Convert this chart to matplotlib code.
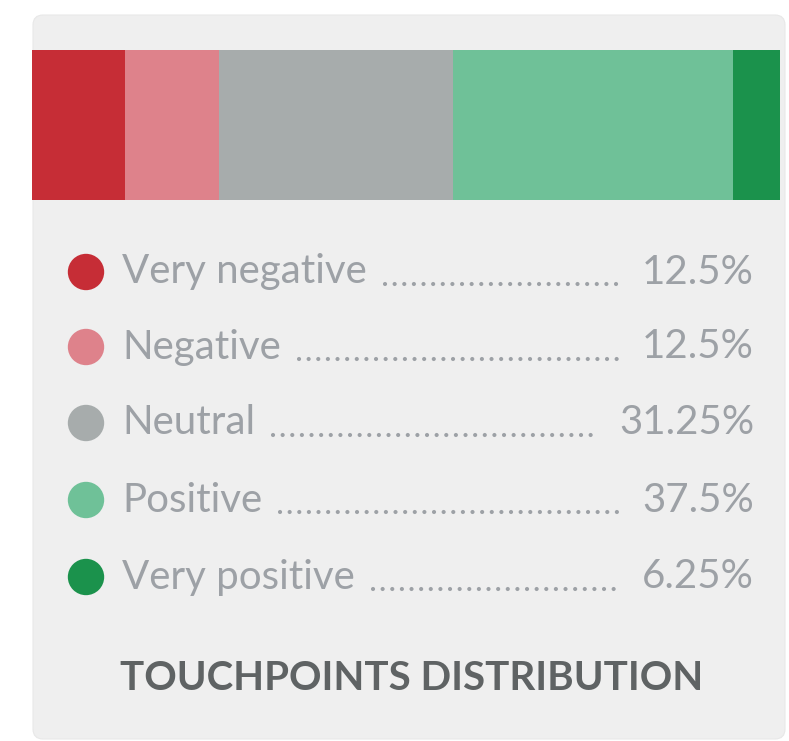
import matplotlib
matplotlib.use("Agg")
import matplotlib.pyplot as plt
from matplotlib.patches import FancyBboxPatch

plt.rcParams['font.family'] = ['Lato', 'DejaVu Sans']

labels = ["Very negative", "Negative", "Neutral", "Positive", "Very positive"]
shares = [12.5, 12.5, 31.25, 37.5, 6.25]
value_texts = ["12.5%", "12.5%", "31.25%", "37.5%", "6.25%"]
colors = ["#c62d36", "#de828b", "#a7acac", "#6fc198", "#1b924c"]
title = "TOUCHPOINTS DISTRIBUTION"

W, H = 789, 741
fig = plt.figure(figsize=(W / 100, H / 100), dpi=100)
ax = fig.add_axes([0, 0, 1, 1])
ax.set_xlim(0, W)
ax.set_ylim(H, 0)
ax.axis("off")

# card background
card = FancyBboxPatch((33, 15), 752, 724, boxstyle="round,pad=0,rounding_size=10",
                      facecolor="#efefef", edgecolor="#e8e8e8", linewidth=0.8, zorder=0)
ax.add_patch(card)

# stacked bar
bar_left, bar_width = 32, 748
left = bar_left
for share, col in zip(shares, colors):
    w = share / 100 * bar_width
    ax.barh(125, w, height=150, left=left, color=col, edgecolor="none", zorder=2)
    left += w

# legend rows
text_col = "#9da1a6"
fs = 29
row_y = [272, 347, 423, 500, 577]
ax.scatter([86] * len(labels), row_y, s=35 ** 2 * 0.56, c=colors, zorder=3, linewidths=0)

fig.canvas.draw()
renderer = fig.canvas.get_renderer()
inv = ax.transData.inverted()
for y, lab, val in zip(row_y, labels, value_texts):
    t1 = ax.text(122, y, lab, fontsize=fs, color=text_col, va="center", ha="left")
    t2 = ax.text(754, y, val, fontsize=fs, color=text_col, va="center", ha="right")
    b1 = t1.get_window_extent(renderer)
    b2 = t2.get_window_extent(renderer)
    x_start = inv.transform((b1.x1, 0))[0] + 18
    x_end = inv.transform((b2.x0, 0))[0] - 20
    # dotted leader between label and value
    ax.plot([x_start, x_end], [y + 12, y + 12], color=text_col, linewidth=3.0,
            linestyle=(0, (0.01, 2.3)), dash_capstyle="round", solid_capstyle="round")

ax.text(412, 678, title, fontsize=29, fontweight="bold", color="#5f6364",
        ha="center", va="center")

fig.savefig("out.png", dpi=100)
